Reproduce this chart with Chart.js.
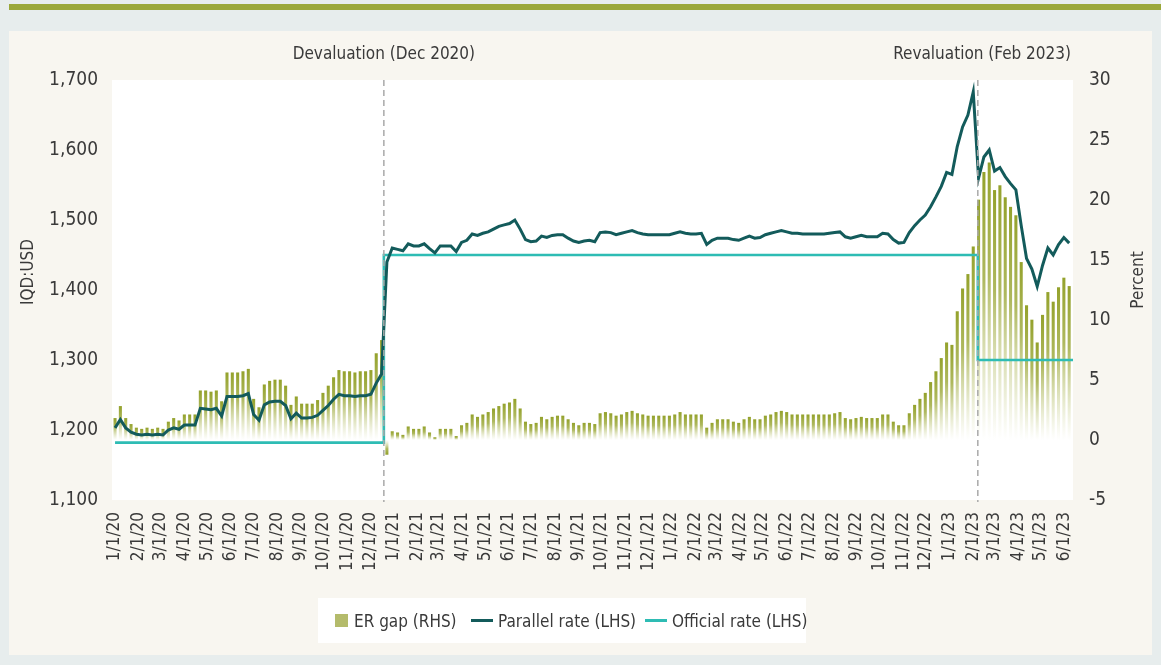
<!DOCTYPE html>
<html>
<head>
<meta charset="utf-8">
<script src="https://cdn.jsdelivr.net/npm/chart.js@4.4.1/dist/chart.umd.min.js"></script>
<style>
  html, body { margin:0; padding:0; }
  body { width:1161px; height:665px; background:#e7eded; position:relative; overflow:hidden;
         font-family:'Liberation Sans Narrow','DejaVu Sans Condensed','Roboto',sans-serif; }
  #topbar { position:absolute; left:9px; right:0; top:4px; height:6px; background:#9aa83a; }
  #panel { position:absolute; left:9px; top:31px; width:1143px; height:624px; background:#f8f6f0; }
  #c { position:absolute; left:9px; top:31px; }
  #legend { position:absolute; left:318px; top:598px; width:488px; height:45px; background:#fff;
            font-size:17px; color:#3a3a3a; }
  .it { display:flex; align-items:center; position:absolute; top:0; height:45px; white-space:nowrap; }
  .sq { width:13px; height:13px; background:#b4bb6b; margin-right:6px; flex:none; }
  .ln { width:22px; height:3px; margin-right:5px; flex:none; }
</style>
</head>
<body>
<div id="topbar"></div>
<div id="panel"></div>
<canvas id="c" width="1143" height="624"></canvas>
<div id="legend">
  <div class="it" style="left:17px"><div class="sq"></div><span>ER gap (RHS)</span></div>
  <div class="it" style="left:153px"><div class="ln" style="background:#135b5b"></div><span>Parallel rate (LHS)</span></div>
  <div class="it" style="left:327px"><div class="ln" style="background:#2ebcb4"></div><span>Official rate (LHS)</span></div>
</div>
<script>
// ---------- DATA ----------
const startDate = '2020-01-01';      // first weekly observation
const weekStepDays = 7;              // observations are weekly

// Parallel market rate, IQD per USD (LHS)
const parallelRate = [
 1203,1215,1203,1197,1194,1193,1194,1193,1194,1193,
 1200,1203,1201,1207,1207,1207,1231,1230,1229,1231,
 1220,1248,1248,1248,1249,1252,1222,1214,1236,1240,
 1241,1241,1235,1216,1224,1217,1217,1218,1221,1228,
 1235,1244,1251,1249,1249,1248,1249,1249,1251,1267,
 1280,1440,1460,1458,1456,1466,1463,1463,1466,1459,
 1453,1463,1463,1463,1455,1468,1471,1480,1478,1481,
 1483,1487,1491,1493,1495,1500,1487,1472,1469,1470,
 1477,1475,1478,1479,1479,1474,1470,1468,1470,1471,
 1469,1482,1483,1482,1479,1481,1483,1485,1482,1480,
 1479,1479,1479,1479,1479,1481,1483,1481,1480,1480,
 1481,1465,1471,1474,1474,1474,1472,1471,1474,1477,
 1474,1475,1479,1481,1483,1485,1483,1481,1481,1480,
 1480,1480,1480,1480,1481,1482,1483,1476,1474,1476,
 1478,1476,1476,1476,1481,1480,1472,1467,1468,1482,
 1492,1500,1507,1519,1533,1548,1568,1565,1605,1633,
 1650,1683,1560,1590,1600,1570,1575,1562,1552,1543,
 1492,1445,1430,1405,1435,1460,1450,1465,1475,1467
];

// Exchange-rate gap, percent (RHS)
const erGap = [
 1.8,2.8,1.8,1.3,1.0,0.9,1.0,0.9,1.0,0.9,
 1.5,1.8,1.6,2.1,2.1,2.1,4.1,4.1,4.0,4.1,
 3.2,5.6,5.6,5.6,5.7,5.9,3.4,2.7,4.6,4.9,
 5.0,5.0,4.5,2.9,3.6,3.0,3.0,3.0,3.3,3.9,
 4.5,5.2,5.8,5.7,5.7,5.6,5.7,5.7,5.8,7.2,
 8.3,-1.2,0.7,0.6,0.4,1.1,0.9,0.9,1.1,0.6,
 0.2,0.9,0.9,0.9,0.3,1.2,1.4,2.1,1.9,2.1,
 2.3,2.6,2.8,3.0,3.1,3.4,2.6,1.5,1.3,1.4,
 1.9,1.7,1.9,2.0,2.0,1.7,1.4,1.2,1.4,1.4,
 1.3,2.2,2.3,2.2,2.0,2.1,2.3,2.4,2.2,2.1,
 2.0,2.0,2.0,2.0,2.0,2.1,2.3,2.1,2.1,2.1,
 2.1,1.0,1.4,1.7,1.7,1.7,1.5,1.4,1.7,1.9,
 1.7,1.7,2.0,2.1,2.3,2.4,2.3,2.1,2.1,2.1,
 2.1,2.1,2.1,2.1,2.1,2.2,2.3,1.8,1.7,1.8,
 1.9,1.8,1.8,1.8,2.1,2.1,1.5,1.2,1.2,2.2,
 2.9,3.4,3.9,4.8,5.7,6.8,8.1,7.9,10.7,12.6,
 13.8,16.1,20.0,22.3,23.1,20.8,21.2,20.2,19.4,18.7,
 14.8,11.2,10.0,8.1,10.4,12.3,11.5,12.7,13.5,12.8
];

// Official rate (LHS): dates of each change and the level
const officialDates  = ['2020-01-01','2020-12-19','2020-12-19','2023-02-07','2023-02-07','2023-06-13'];
const officialValues = [1182, 1182, 1450, 1450, 1300, 1300];

// Event markers
const eventDates  = ['2020-12-19','2023-02-07'];
const eventLabels = ['Devaluation (Dec 2020)','Revaluation (Feb 2023)'];

// X-axis tick labels (month starts)
const tickLabels = [
 '1/1/20','2/1/20','3/1/20','4/1/20','5/1/20','6/1/20','7/1/20','8/1/20','9/1/20','10/1/20','11/1/20','12/1/20',
 '1/1/21','2/1/21','3/1/21','4/1/21','5/1/21','6/1/21','7/1/21','8/1/21','9/1/21','10/1/21','11/1/21','12/1/21',
 '1/1/22','2/1/22','3/1/22','4/1/22','5/1/22','6/1/22','7/1/22','8/1/22','9/1/22','10/1/22','11/1/22','12/1/22',
 '1/1/23','2/1/23','3/1/23','4/1/23','5/1/23','6/1/23'
];
const leftTicks  = [1100,1200,1300,1400,1500,1600,1700];
const rightTicks = [-5,0,5,10,15,20,25,30];

// ---------- HELPERS ----------
const DAY = 86400000;
const base = Date.UTC(2020,0,1);
function isoToDay(s){ const [y,m,d]=s.split('-').map(Number); return (Date.UTC(y,m-1,d)-base)/DAY; }
function mdyToDay(s){ const [m,d,y]=s.split('/').map(Number); return (Date.UTC(2000+y,m-1,d)-base)/DAY; }
const startDay = isoToDay(startDate);
const weekDays = parallelRate.map((_,i)=> startDay + i*weekStepDays);
const tickDays = tickLabels.map(mdyToDay);
const tickMap = new Map(tickDays.map((d,i)=>[d,tickLabels[i]]));

const FONT = "'Liberation Sans Narrow','DejaVu Sans Condensed','Roboto',sans-serif";
const TXT = '#3a3a3a';
Chart.defaults.font.family = FONT;
Chart.defaults.color = TXT;

function barFill(ctx){
  const chart = ctx.chart;
  const olive = 'rgb(152,166,52)';
  if (ctx.type !== 'data' || !chart.chartArea || !chart.scales.y1) return olive;
  const v = ctx.parsed ? ctx.parsed.y : 0;
  const y0 = chart.scales.y1.getPixelForValue(0);
  const yv = chart.scales.y1.getPixelForValue(v);
  if (!isFinite(y0) || !isFinite(yv) || Math.abs(y0-yv) < 1) return olive;
  const g = chart.ctx.createLinearGradient(0, yv, 0, y0);
  g.addColorStop(0, 'rgba(148,162,44,1)');
  g.addColorStop(0.4, 'rgba(160,172,66,0.85)');
  g.addColorStop(1, 'rgba(195,202,130,0)');
  return g;
}

const decor = {
  id:'decor',
  beforeDraw(chart){
    const {ctx, chartArea:a} = chart;
    ctx.save();
    ctx.fillStyle = '#ffffff';
    ctx.fillRect(a.left, a.top, a.right-a.left, a.bottom-a.top);
    ctx.restore();
  },
  afterDatasetsDraw(chart){
    const {ctx, chartArea:a, scales} = chart;
    ctx.save();
    ctx.strokeStyle = '#a9a9a9';
    ctx.lineWidth = 1.5;
    ctx.setLineDash([6,4]);
    eventDates.forEach(d=>{
      const x = scales.x.getPixelForValue(isoToDay(d));
      ctx.beginPath(); ctx.moveTo(x, a.top); ctx.lineTo(x, a.bottom+2); ctx.stroke();
    });
    ctx.setLineDash([]);
    ctx.fillStyle = TXT;
    ctx.font = "17px " + FONT;
    ctx.textBaseline = 'middle';
    const x0 = scales.x.getPixelForValue(isoToDay(eventDates[0]));
    ctx.textAlign = 'center';
    ctx.fillText(eventLabels[0], x0, a.top - 25);
    ctx.textAlign = 'right';
    ctx.fillText(eventLabels[1], a.right - 2, a.top - 25);
    // axis titles
    ctx.font = "17px " + FONT;
    ctx.textAlign = 'center';
    ctx.save(); ctx.translate(20, 241); ctx.rotate(-Math.PI/2); ctx.fillText('IQD:USD', 0, 0); ctx.restore();
    ctx.save(); ctx.translate(1130, 249); ctx.rotate(-Math.PI/2); ctx.fillText('Percent', 0, 0); ctx.restore();
    ctx.restore();
  }
};

new Chart(document.getElementById('c'), {
  type:'bar',
  data:{
    datasets:[
      { type:'line', label:'Parallel rate (LHS)', yAxisID:'y', order:1,
        data: weekDays.map((d,i)=>({x:d, y:parallelRate[i]})),
        borderColor:'#135b5b', borderWidth:3, pointRadius:0, tension:0, fill:false },
      { type:'line', label:'Official rate (LHS)', yAxisID:'y', order:2,
        data: officialDates.map((d,i)=>({x:isoToDay(d), y:officialValues[i]})),
        borderColor:'#2ebcb4', borderWidth:2.6, pointRadius:0, tension:0, fill:false },
      { type:'bar', label:'ER gap (RHS)', yAxisID:'y1', order:3,
        data: weekDays.map((d,i)=>({x:d, y:erGap[i]})),
        backgroundColor: barFill, borderWidth:0, barThickness:2.4, grouped:false }
    ]
  },
  options:{
    responsive:false, animation:false,
    layout:{ padding:{ top:49, left:0, right:0, bottom:0 } },
    plugins:{ legend:{ display:false }, tooltip:{ enabled:false } },
    scales:{
      x:{ type:'linear', min:-4, max:1258, offset:false,
          grid:{ display:false }, border:{ display:false },
          afterBuildTicks: s => { s.ticks = tickDays.map(v=>({value:v})); },
          afterFit: s => { s.height = 155; },
          ticks:{ autoSkip:false, maxRotation:90, minRotation:90, padding:4,
                  font:{ size:17 }, color:TXT,
                  callback: v => tickMap.get(v) || '' } },
      y:{ type:'linear', position:'left', min:1100, max:1700,
          grid:{ display:false }, border:{ display:false },
          afterBuildTicks: s => { s.ticks = leftTicks.map(v=>({value:v})); },
          afterFit: s => { s.width = 103; },
          ticks:{ padding:6, font:{ size:19 }, color:TXT,
                  callback: v => v.toLocaleString('en-US') } },
      y1:{ type:'linear', position:'right', min:-5, max:30,
          grid:{ display:false }, border:{ display:false },
          afterBuildTicks: s => { s.ticks = rightTicks.map(v=>({value:v})); },
          afterFit: s => { s.width = 79; },
          ticks:{ padding:8, font:{ size:19 }, color:TXT } }
    }
  },
  plugins:[decor]
});
</script>
</body>
</html>
